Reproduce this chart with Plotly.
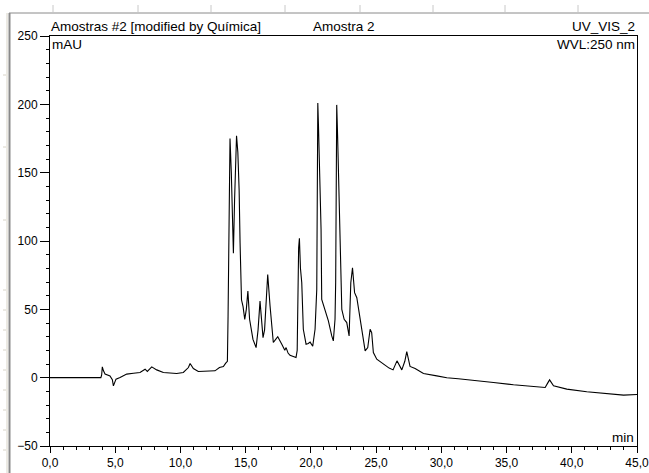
import plotly.graph_objects as go

# Retention time (min) and detector response (mAU), UV_VIS_2 channel at 250 nm
time_min = [
    0.0, 3.9, 3.96, 4.01, 4.1, 4.22, 4.6, 4.78, 4.86, 4.95, 5.06, 5.37, 5.88, 6.4, 6.9,
    7.29, 7.46, 7.8, 8.18, 8.69, 9.2, 9.71, 10.22, 10.61, 10.74, 10.99, 11.37, 12.0,
    12.65, 12.99, 13.29, 13.47, 13.6, 13.65, 13.72, 13.8, 13.9, 14.0, 14.06, 14.15,
    14.3, 14.4, 14.5, 14.57, 14.62, 14.68, 14.8, 14.93, 15.05, 15.17, 15.3, 15.56,
    15.8, 15.95, 16.1, 16.2, 16.33, 16.45, 16.6, 16.69, 16.87, 17.12, 17.3, 17.46,
    17.77, 18.0, 18.1, 18.25, 18.4, 18.86, 18.95, 19.0, 19.06, 19.12, 19.2, 19.3,
    19.42, 19.63, 19.8, 19.94, 20.14, 20.32, 20.45, 20.5, 20.53, 20.58, 20.65, 20.78,
    20.83, 21.08, 21.34, 21.6, 21.72, 21.85, 21.9, 21.95, 21.98, 22.05, 22.18, 22.29,
    22.37, 22.55, 22.75, 22.93, 23.06, 23.19, 23.35, 23.52, 23.65, 23.9, 24.16, 24.36,
    24.54, 24.66, 24.79, 25.05, 25.3, 25.56, 26.0, 26.3, 26.6, 26.97, 27.2, 27.35,
    27.6, 27.99, 28.63, 29.65, 30.42, 31.3, 32.2, 33.1, 34.0, 35.53, 36.8, 37.96,
    38.15, 38.3, 38.6, 39.62, 41.15, 42.7, 43.97, 45.0,
]
signal_mau = [
    0.0, 0.0, 2.0, 7.9, 5.0, 2.6, 1.3, -1.5, -6.0, -3.0, -1.1, 0.1, 2.6, 3.2, 3.8,
    6.2, 4.6, 7.9, 5.7, 3.8, 3.2, 3.0, 3.8, 7.4, 10.4, 6.7, 4.5, 4.5,
    5.0, 7.4, 8.2, 10.6, 12.0, 45.0, 125.0, 175.0, 150.0, 110.0, 91.0, 130.0,
    177.0, 165.0, 137.0, 99.0, 75.0, 57.0, 52.0, 42.7, 50.0, 63.4, 42.7, 28.0,
    22.0, 35.0, 56.0, 45.0, 29.3, 35.0, 65.0, 75.5, 52.4, 25.7, 28.0, 30.0,
    24.5, 20.0, 22.0, 18.0, 16.4, 14.7, 20.0, 60.0, 95.0, 102.0, 80.0, 69.5,
    35.4, 24.5, 25.0, 26.0, 23.0, 35.4, 64.6, 150.0, 201.0, 185.0, 159.5, 108.4,
    57.3, 48.8, 41.5, 30.5, 26.9, 42.7, 69.7, 150.0, 199.6, 176.0, 125.0, 84.0,
    50.0, 42.7, 40.3, 30.5, 69.5, 80.4, 62.2, 58.5, 51.2, 35.4, 19.6, 22.0,
    35.4, 33.0, 18.4, 13.5, 11.8, 9.9, 7.0, 5.7, 12.3, 5.7, 12.0, 19.1,
    8.2, 6.7, 3.1, 1.3, -0.1, -0.8, -1.6, -2.5, -3.5, -5.2, -6.4, -7.2,
    -4.0, -1.6, -6.0, -8.4, -10.3, -11.5, -12.8, -12.3,
]

x_ticks = [0, 5, 10, 15, 20, 25, 30, 35, 40, 45]
y_ticks = [-50, 0, 50, 100, 150, 200, 250]

FONT = "Liberation Sans, Arial, sans-serif"

fig = go.Figure()
fig.add_trace(go.Scatter(
    x=time_min, y=signal_mau, mode="lines",
    line=dict(color="#000000", width=1.1),
    hoverinfo="skip", showlegend=False,
))

# plot area spans x 50..637 px and y 36..446 px of a 649x473 page
L, R, T, B, W, H = 50, 12, 36, 27, 649, 473
pw, ph = W - L - R, H - T - B


def px_x(p):
    return (p - L) / pw


def px_y(p):
    return (H - B - p) / ph


shapes = [
    # window frame: grey left edge with a light bevel, grey top edge
    dict(type="line", xref="paper", yref="paper", x0=px_x(7), x1=px_x(7),
         y0=px_y(13), y1=px_y(473), line=dict(color="#d8d4c8", width=1)),
    dict(type="line", xref="paper", yref="paper", x0=px_x(9.5), x1=px_x(9.5),
         y0=px_y(13), y1=px_y(473), line=dict(color="#8a8a8a", width=2)),
    dict(type="line", xref="paper", yref="paper", x0=px_x(9), x1=px_x(649),
         y0=px_y(13), y1=px_y(13), line=dict(color="#8a8a8a", width=1)),
]
for tx in [53, 138, 211, 285, 360, 433, 505, 578]:
    shapes.append(dict(type="line", xref="paper", yref="paper",
                       x0=px_x(tx), x1=px_x(tx), y0=px_y(5), y1=px_y(12),
                       line=dict(color="#c8c8c8", width=1)))
for ty in [75, 147, 220, 290, 310, 330, 350, 370, 390, 410, 430, 450]:
    shapes.append(dict(type="line", xref="paper", yref="paper",
                       x0=px_x(3), x1=px_x(6), y0=px_y(ty), y1=px_y(ty),
                       line=dict(color="#d8d4c8", width=1)))

tick_font = dict(family=FONT, size=12, color="#000000")
txt = dict(family=FONT, size=13.5, color="#000000")
annotations = [
    dict(text="Amostras #2 [modified by Química]", xref="paper", yref="paper",
         x=0.0, y=1.0, xanchor="left", yanchor="bottom", showarrow=False,
         font=txt, borderpad=0, yshift=1),
    dict(text="Amostra 2", xref="paper", yref="paper",
         x=px_x(343.5), y=1.0, xanchor="center", yanchor="bottom", showarrow=False,
         font=txt, borderpad=0, yshift=1),
    dict(text="UV_VIS_2", xref="paper", yref="paper",
         x=px_x(636), y=1.0, xanchor="right", yanchor="bottom", showarrow=False,
         font=txt, borderpad=0, yshift=1),
    dict(text="mAU", xref="paper", yref="paper",
         x=0.0, y=1.0, xanchor="left", yanchor="top", showarrow=False,
         font=txt, borderpad=0, xshift=1),
    dict(text="WVL:250 nm", xref="paper", yref="paper",
         x=1.0, y=1.0, xanchor="right", yanchor="top", showarrow=False,
         font=txt, borderpad=0, xshift=-1),
    dict(text="min", xref="paper", yref="paper",
         x=1.0, y=0.0, xanchor="right", yanchor="bottom", showarrow=False,
         font=txt, borderpad=0, xshift=-2),
]

fig.update_layout(
    width=W, height=H,
    margin=dict(l=L, r=R, t=T, b=B, pad=0, autoexpand=False),
    paper_bgcolor="#ffffff", plot_bgcolor="#ffffff",
    separators=",.",
    font=tick_font,
    shapes=shapes,
    annotations=annotations,
    showlegend=False,
)
fig.update_xaxes(
    range=[0, 45], tickvals=x_ticks, tickformat=".1f", automargin=False,
    ticklabeloverflow="allow",
    showline=True, linecolor="#000000", linewidth=1, mirror=True,
    ticks="outside", ticklen=6, tickcolor="#000000", tickwidth=1,
    minor=dict(dtick=1, tick0=0, ticks="outside", ticklen=3,
               tickcolor="#000000", showgrid=False),
    showgrid=False, zeroline=False, tickfont=tick_font,
)
fig.update_yaxes(
    range=[-50, 250], tickvals=y_ticks, automargin=False,
    ticklabeloverflow="allow",
    showline=True, linecolor="#000000", linewidth=1, mirror=True,
    ticks="outside", ticklen=9, tickcolor="#000000", tickwidth=1,
    minor=dict(dtick=10, tick0=0, ticks="outside", ticklen=3,
               tickcolor="#000000", showgrid=False),
    showgrid=False, zeroline=False, tickfont=tick_font,
)

fig.write_html("out.html")
